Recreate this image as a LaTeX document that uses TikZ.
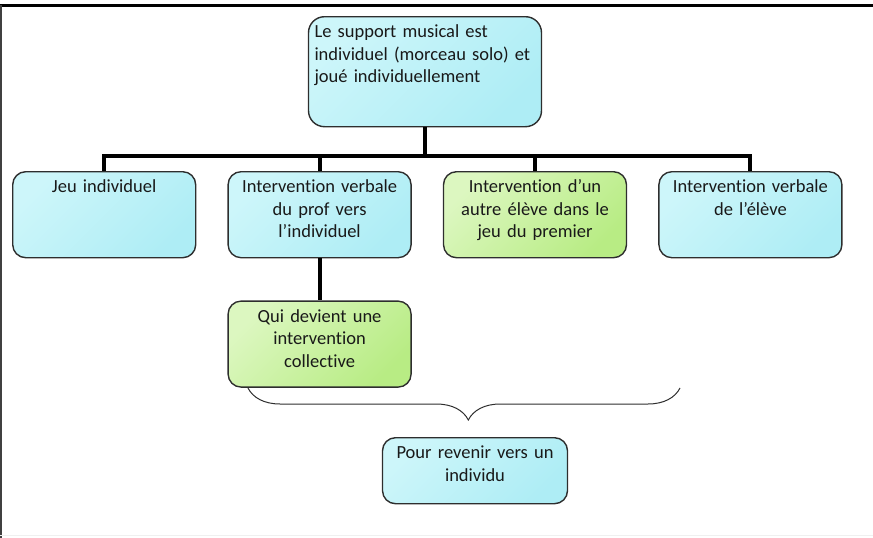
\documentclass[tikz,border=0pt]{standalone}
\usepackage{fontspec}
\setmainfont{Carlito}[Ligatures=NoCommon]
\usetikzlibrary{positioning,decorations.pathreplacing}
\definecolor{cyanlight}{HTML}{CDF6FA}
\definecolor{cyandark}{HTML}{AEEDF5}
\definecolor{greenlight}{HTML}{DCF7C0}
\definecolor{greendark}{HTML}{B8EC84}
\definecolor{edge}{HTML}{2E2E2E}

\begin{document}
\begin{tikzpicture}[x=1pt, y=-1pt,
    every node/.style={font=\fontsize{18.5}{22.5}\selectfont, text=black!90},
    box/.style={draw=edge, line width=1.4pt, rounded corners=13pt, inner xsep=6pt, inner ysep=5pt, text width=171pt, align=center, text height=16pt, text depth=60pt},
    cyanbox/.style={box, top color=cyanlight, bottom color=cyandark, shading angle=45},
    greenbox/.style={box, top color=greenlight, bottom color=greendark, shading angle=45},
    conn/.style={line width=4pt},
    brace/.style={decorate, decoration={brace, amplitude=32pt, mirror, aspect=0.51}, draw=edge, line width=1pt}
]
\useasboundingbox (0,0) rectangle (873,538);
\draw[line width=3pt] (0,5) -- (873,5);
\draw[black!75, line width=2pt] (1,5) -- (1,538);
\draw[black!6, line width=1pt] (0,535) -- (873,535);

\node[cyanbox, align=left, text width=221pt, text depth=84pt, rounded corners=16pt, anchor=north] (solo) at (425,16) {Le support musical est\\ individuel (morceau solo) et\\ joué individuellement};
\node[cyanbox, anchor=north west] (jeu) at (12,171) {Jeu individuel};
\node[cyanbox, right=31pt of jeu] (prof) {Intervention verbale\\ du prof vers\\ l’individuel};
\node[greenbox, right=31pt of prof] (autre) {Intervention d’un\\ autre élève dans le\\ jeu du premier};
\node[cyanbox, right=31pt of autre] (eleve) {Intervention verbale\\ de l’élève};
\node[greenbox, below=42pt of prof] (collect) {Qui devient une\\ intervention\\ collective};
\node[cyanbox, text width=173pt, text depth=40pt, anchor=north] (retour) at (475,437) {Pour revenir vers un\\ individu};

\draw[conn] (solo.south) -- ++(0,29) coordinate (fork);
\foreach \b in {jeu,prof,autre,eleve}
  \draw[conn] (fork) -| (\b.north);
\draw[conn] (prof.south) -- (collect.north);

\coordinate (bl) at (248,388);
\coordinate (br) at (680,388);
\draw[brace] (bl) -- (br);
\end{tikzpicture}
\end{document}
